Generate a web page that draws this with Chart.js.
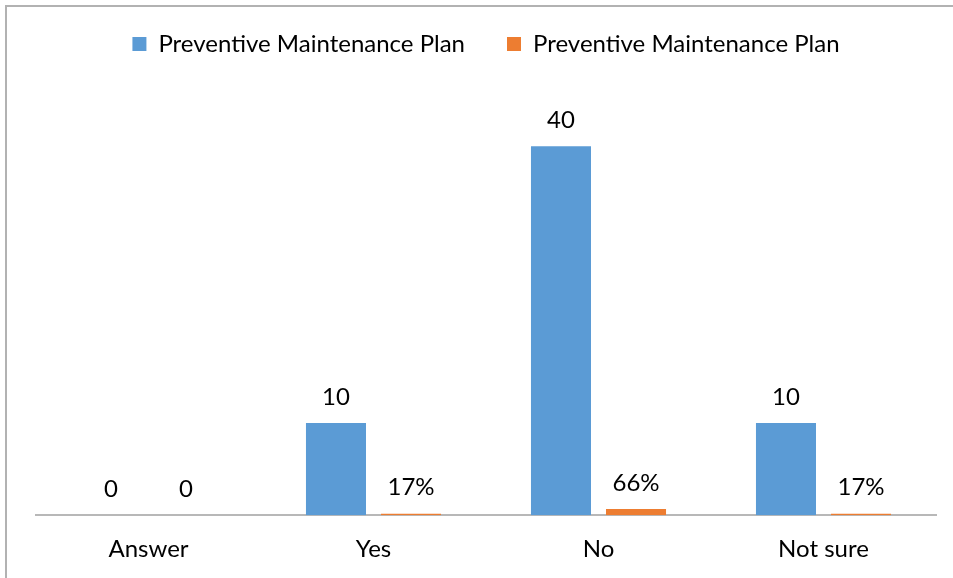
<!DOCTYPE html>
<html>
<head>
<meta charset="utf-8">
<script src="https://cdn.jsdelivr.net/npm/chart.js@4"></script>
<style>
  html, body { margin: 0; padding: 0; background: #fff; }
  body { width: 953px; height: 578px; overflow: hidden; position: relative; }
  #frame {
    position: absolute; left: 5px; top: 5px; width: 960px; height: 600px;
    border-left: 2px solid #b2b2b2; border-top: 2px solid #b2b2b2;
  }
  #myChart { position: absolute; left: 0; top: 0; width: 953px; height: 578px; }
</style>
</head>
<body>
<div id="frame"></div>
<canvas id="myChart" width="953" height="578"></canvas>
<script>
const categories = ["Answer", "Yes", "No", "Not sure"];
const countValues = [0, 10, 40, 10];
const shareValues = [0, 0.17, 0.66, 0.17];
const shareLabels = ["0", "17%", "66%", "17%"];
const seriesName = "Preventive Maintenance Plan";

const fontFamily = "Lato, 'Open Sans', sans-serif";
const fontSize = 24;

// draws the value labels above each bar
const barLabels = {
  id: 'barLabels',
  afterDatasetsDraw(chart) {
    const ctx = chart.ctx;
    ctx.save();
    ctx.font = fontSize + 'px ' + fontFamily;
    ctx.fillStyle = '#000';
    ctx.textAlign = 'center';
    ctx.textBaseline = 'middle';
    chart.data.datasets.forEach(function (ds, i) {
      chart.getDatasetMeta(i).data.forEach(function (bar, j) {
        const text = i === 0 ? String(countValues[j]) : shareLabels[j];
        ctx.fillText(text, bar.x, bar.y - 26);
      });
    });
    ctx.restore();
  }
};

const ctx = document.getElementById('myChart').getContext('2d');

const chart = new Chart(ctx, {
  type: 'bar',
  data: {
    labels: categories,
    datasets: [{
      label: seriesName,
      backgroundColor: '#5B9BD5',
      data: countValues,
    },
    {
      label: seriesName,
      backgroundColor: '#ED7D31',
      data: shareValues,
    }]
  },
  options: {
    responsive: false,
    animation: false,
    devicePixelRatio: 1,
    categoryPercentage: 0.667,
    barPercentage: 0.8,
    layout: { padding: { left: 36, right: 17, top: -10, bottom: -6 } },
    scales: {
      x: {
        grid: { display: false, drawTicks: false },
        border: { color: '#b8b8b8', width: 2 },
        ticks: { color: '#000', padding: 20, font: { family: fontFamily, size: fontSize } },
      },
      y: {
        display: false,
        min: 0,
        max: 48.7,
      },
    },
    plugins: {
      legend: {
        labels: {
          boxWidth: 14,
          boxHeight: 14,
          padding: 42,
          color: '#000',
          font: { family: fontFamily, size: fontSize },
        },
      },
      tooltip: { enabled: false },
    },
  },
  plugins: [barLabels],
});
</script>
</body>
</html>
